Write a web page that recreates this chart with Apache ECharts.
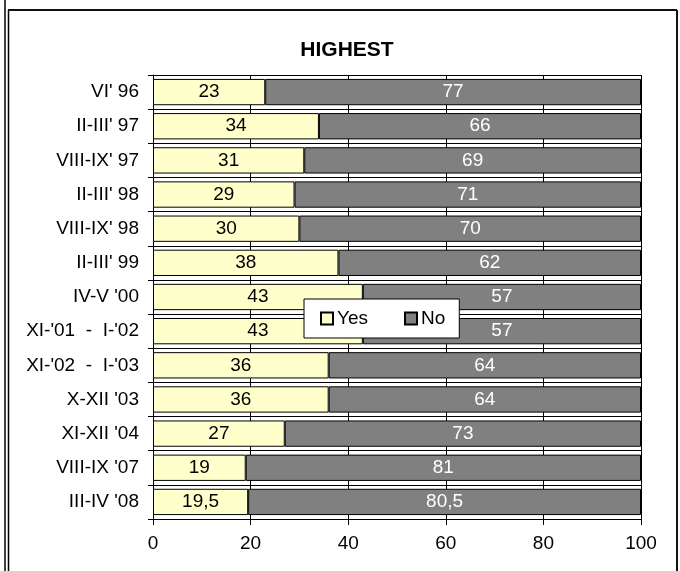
<!DOCTYPE html>
<html>
<head>
<meta charset="utf-8">
<script src="https://cdn.jsdelivr.net/npm/echarts@6/dist/echarts.min.js"></script>
<style>
html,body{margin:0;padding:0;background:#fff;}
#chart{width:680px;height:571px;}
</style>
</head>
<body>
<div id="chart"></div>
<script>
const categories = ["VI' 96","II-III' 97","VIII-IX' 97","II-III' 98","VIII-IX' 98","II-III' 99","IV-V '00","XI-'01  -  I-'02","XI-'02  -  I-'03","X-XII '03","XI-XII '04","VIII-IX '07","III-IV '08"];
const yesValues = [23,34,31,29,30,38,43,43,36,36,27,19,19.5];
const noValues = [77,66,69,71,70,62,57,57,64,64,73,81,80.5];
const xTicks = [0,20,40,60,80,100];

const FONT = "'Liberation Sans', Arial, sans-serif";
const fmt = p => String(p.value).replace('.', ',');

const chart = echarts.init(document.getElementById('chart'), null, {renderer:'canvas'});
chart.setOption({
  animation: false,
  backgroundColor: '#fff',
  title: {
    text: 'HIGHEST',
    left: 342, top: 35, textAlign: 'center',
    textStyle: {fontFamily: FONT, fontSize: 21, fontWeight: 'bold', color: '#000'}
  },
  legend: {
    left: 304, top: 299,
    width: 158, height: 39,
    padding: [10, 14, 10, 16],
    itemWidth: 12, itemHeight: 12, itemGap: 36,
    backgroundColor: '#fff', borderColor: '#000', borderWidth: 1,
    icon: 'rect',
    textStyle: {fontFamily: FONT, fontSize: 19, color: '#000', padding: [0,0,0,-1]},
    data: ['Yes','No']
  },
  grid: {left: 153, right: 39, top: 75, bottom: 52, containLabel: false},
  xAxis: {
    type: 'value', min: 0, max: 100, interval: 20,
    axisLine: {show: true, lineStyle: {color: '#000'}},
    axisTick: {show: true, length: 6, lineStyle: {color: '#000'}},
    axisLabel: {fontFamily: FONT, fontSize: 19, color: '#000', margin: 15,
      formatter: v => xTicks.includes(v) ? String(v) : ''},
    splitLine: {show: true, lineStyle: {color: '#000', width: 1}}
  },
  yAxis: {
    type: 'category', data: categories, inverse: true,
    axisLine: {show: true, lineStyle: {color: '#000'}},
    axisTick: {show: true, length: 5, lineStyle: {color: '#000'}},
    axisLabel: {fontFamily: FONT, fontSize: 19, color: '#000', margin: 14},
    splitLine: {show: true, lineStyle: {color: '#000', width: 1}}
  },
  series: [
    {
      name: 'Yes', type: 'bar', stack: 'all', data: yesValues,
      barCategoryGap: '23%',
      itemStyle: {color: '#FFFFCC', borderColor: '#000', borderWidth: 1},
      label: {show: true, position: 'inside', formatter: fmt,
        fontFamily: FONT, fontSize: 19, color: '#000'}
    },
    {
      name: 'No', type: 'bar', stack: 'all', data: noValues,
      barCategoryGap: '23%',
      itemStyle: {color: '#808080', borderColor: '#000', borderWidth: 1},
      label: {show: true, position: 'inside', formatter: fmt,
        fontFamily: FONT, fontSize: 19, color: '#fff'}
    }
  ],
  graphic: [
    {type: 'line', shape: {x1: 5, y1: 0, x2: 5, y2: 571}, style: {stroke: '#000', lineWidth: 1.5}, silent: true},
    {type: 'line', shape: {x1: 8.5, y1: 10, x2: 8.5, y2: 571}, style: {stroke: '#000', lineWidth: 1.5}, silent: true},
    {type: 'line', shape: {x1: 8, y1: 10, x2: 677, y2: 10}, style: {stroke: '#111', lineWidth: 2}, silent: true},
    {type: 'line', shape: {x1: 677, y1: 10, x2: 677, y2: 571}, style: {stroke: '#111', lineWidth: 2}, silent: true}
  ]
});
</script>
</body>
</html>
